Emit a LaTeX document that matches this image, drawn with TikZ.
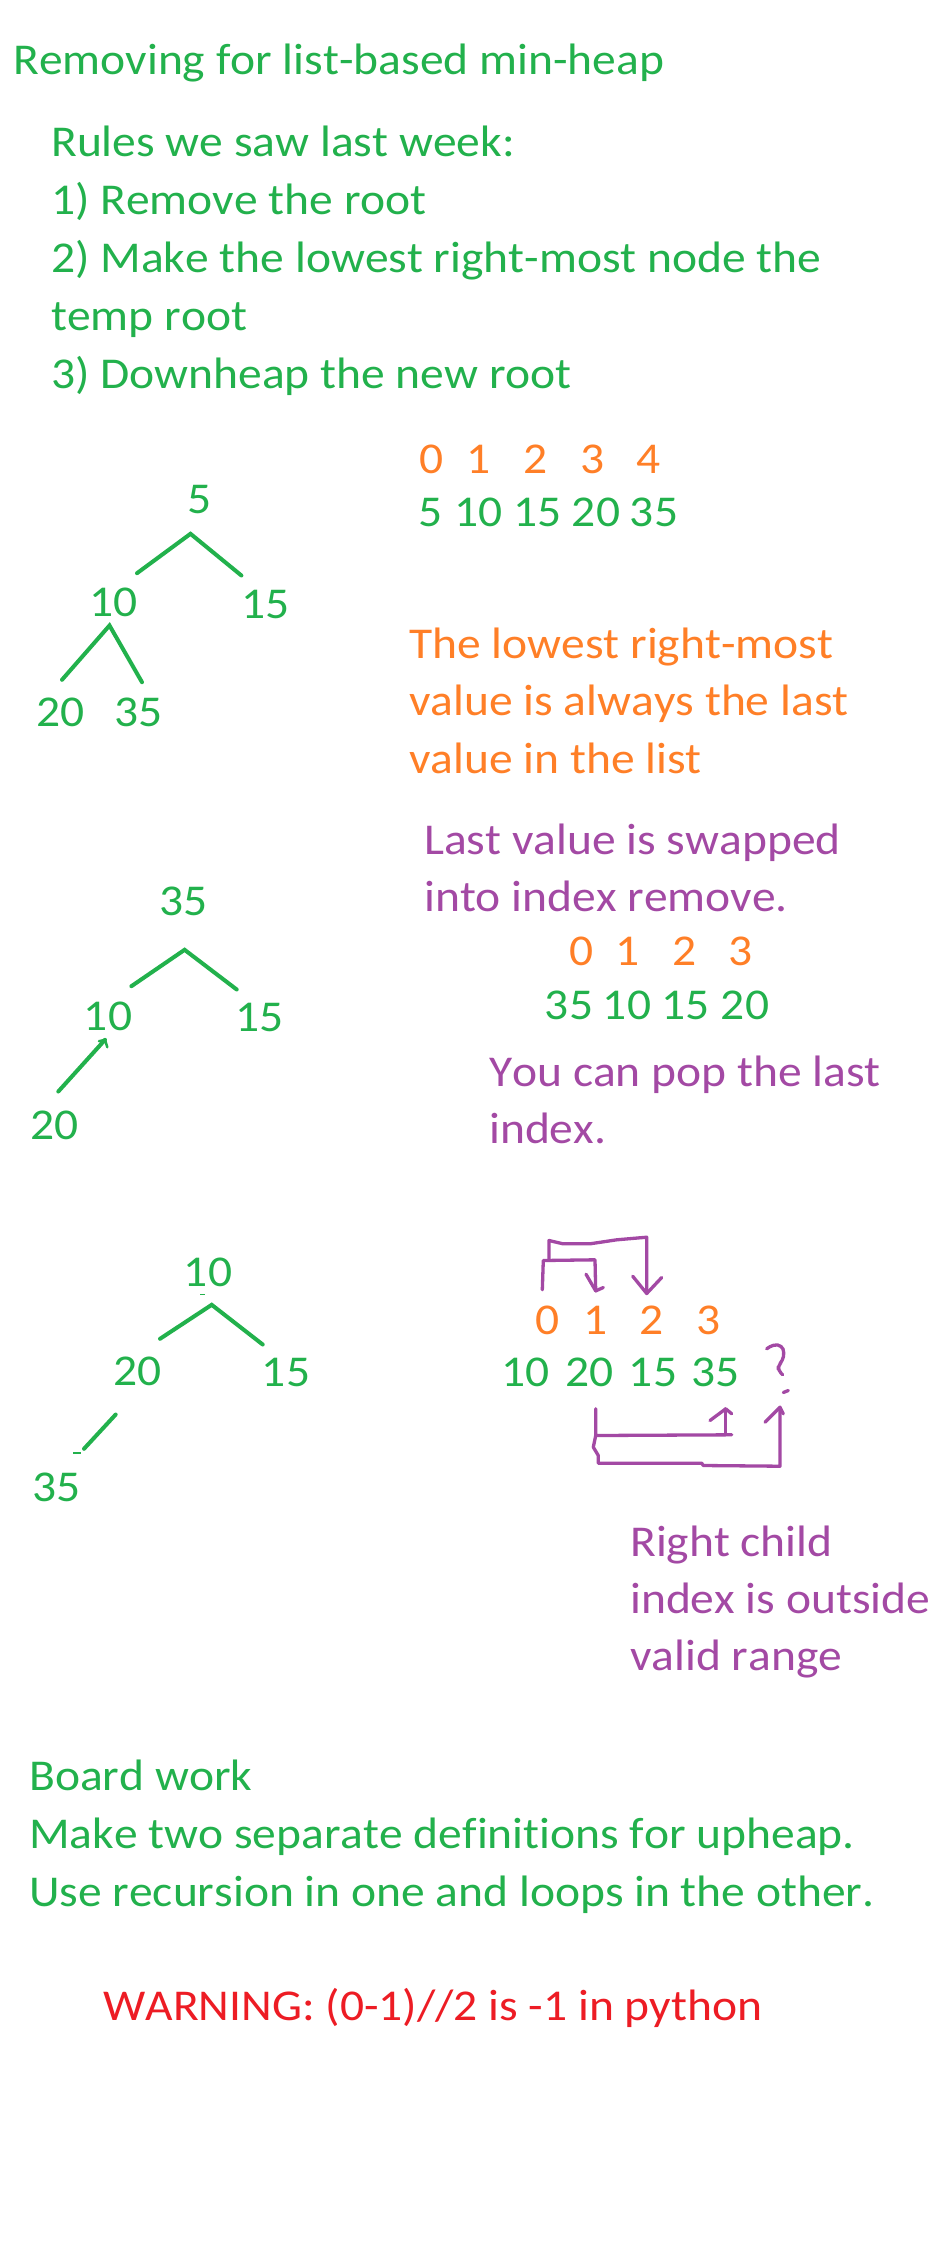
\documentclass[tikz,border=0pt]{standalone}
\usepackage{fontspec}
\setmainfont{Carlito}[FakeStretch=1.08, Ligatures=NoCommon, Kerning=Off]
\definecolor{inkgreen}{RGB}{34,177,76}
\definecolor{inkorange}{RGB}{255,127,39}
\definecolor{inkpurple}{RGB}{163,73,164}
\definecolor{inkred}{RGB}{237,28,36}

\begin{document}
\begin{tikzpicture}[x=1pt, y=-1pt,
    txt/.style={font=\fontsize{44}{58}\selectfont, inner sep=0pt, anchor=base west},
    num/.style={font=\fontsize{44}{58}\selectfont, inner sep=0pt, anchor=base},
    edge/.style={inkgreen, line width=4pt, line cap=round},
    pen/.style={inkpurple, line width=3.3pt, line cap=round, line join=round}]
  \fill[white] (0,0) rectangle (928,2256);
  \useasboundingbox (0,0) rectangle (928,2256);

  % heading and rules
  \node[txt, inkgreen] (title) at (13,75) {Removing for list-based min-heap};
  \foreach \t [count=\i from 0] in {Rules we saw last week:, 1) Remove the root, 2) Make the lowest right-most node the, temp root, 3) Downheap the new root}
    \node[txt, inkgreen] (rule\i) at (51,157+57.8*\i) {\t};

  % first heap
  \node[num, inkgreen] (p5) at (199.5,513.3) {5};
  \node[num, inkgreen] (p10) at (113.4,616.7) {10};
  \node[num, inkgreen] (p15) at (265.4,618) {15};
  \node[num, inkgreen] (p20) at (60.6,726) {20};
  \node[num, inkgreen] (p35) at (138.6,726) {35};
  \draw[edge] ([shift={(23.6,-44)}]p10.south) -- ([shift={(-9,20)}]p5.south) -- ([shift={(-24,-43)}]p15.south);
  \draw[edge] ([shift={(1.4,-46.7)}]p20.south) -- ([shift={(-3.9,8.3)}]p10.south) -- ([shift={(3.4,-44.3)}]p35.south);

  \foreach \x [count=\i from 0] in {432,479,535.5,592.5,649}
    \node[num, inkorange] (la\i) at (\x,473.3) {\i};
  \foreach \x/\v [count=\i from 0] in {430.5/5,478.5/10,537.5/15,596/20,654/35}
    \node[num, inkgreen] (lb\i) at (\x,526.7) {\v};
  \foreach \t [count=\i from 0] in {The lowest right-most, value is always the last, value in the list}
    \node[txt, inkorange] (hint\i) at (409,658.3+57.5*\i) {\t};

  % second heap
  \node[num, inkgreen] (q35) at (183.5,915) {35};
  \node[num, inkgreen] (q10) at (108,1030) {10};
  \node[num, inkgreen] (q15) at (259.8,1031.7) {15};
  \node[num, inkgreen] (q20) at (54.8,1139.3) {20};
  \draw[edge] ([shift={(23.4,-44.3)}]q10.south) -- ([shift={(1.1,34.3)}]q35.south) -- ([shift={(-23.1,-42.7)}]q15.south);
  \draw[edge] ([shift={(3.5,-48.3)}]q20.south) -- ([shift={(-3,9.3)}]q10.south);
  \draw[edge, line width=2.5pt] ([shift={(-9,10.7)}]q10.south) -- ([shift={(-3,9.3)}]q10.south) -- ([shift={(-0.7,16.7)}]q10.south);

  \foreach \t [count=\i from 0] in {Last value is swapped, into index remove.}
    \node[txt, inkpurple] (swap\i) at (424,854+57.7*\i) {\t};
  \foreach \x [count=\i from 0] in {581.5,627.5,685,741}
    \node[num, inkorange] (lc\i) at (\x,965.7) {\i};
  \foreach \x/\v [count=\i from 0] in {569/35,627/10,685.5/15,745/20}
    \node[num, inkgreen] (ld\i) at (\x,1019) {\v};
  \foreach \t [count=\i from 0] in {You can pop the last, index.}
    \node[txt, inkpurple] (pop\i) at (489,1086+57.3*\i) {\t};

  % third heap
  \node[num, inkgreen] (r10) at (208,1286) {10};
  \node[num, inkgreen] (r20) at (137.6,1385.7) {20};
  \node[num, inkgreen] (r15) at (286,1386.7) {15};
  \node[num, inkgreen] (r35) at (56.8,1501.7) {35};
  \draw[edge] ([shift={(22.4,-47.4)}]r20.south) -- ([shift={(3.7,18.3)}]r10.south) -- ([shift={(-23.3,-42.7)}]r15.south);
  \draw[edge] ([shift={(-21.9,28.3)}]r20.south) -- ([shift={(27.2,-53.4)}]r35.south);
  \draw[inkgreen, line width=1.5pt] ([shift={(-8,8)}]r10.south) -- ++(5,0);
  \draw[inkgreen, line width=1.5pt] ([shift={(16.5,-49)}]r35.south) -- ++(7.7,0);

  \foreach \x [count=\i from 0] in {548,595.3,651.7,708.5}
    \node[num, inkorange] (le\i) at (\x,1334) {\i};
  \foreach \x/\v [count=\i from 0] in {525.5/10,589.5/20,653/15,715.5/35}
    \node[num, inkgreen] (lf\i) at (\x,1386.7) {\v};

  % children of index 1
  \draw[pen] ([shift={(-5.7,-44.7)}]le0.south) -- ++(1,-29.3) -- ++(51.7,-0.7) -- ([shift={(0.4,-43.3)}]le1.south);
  \draw[pen] ([shift={(-9.3,-60)}]le1.south) -- ([shift={(0.4,-43.3)}]le1.south) -- ([shift={(8,-46.7)}]le1.south);
  \draw[pen] ([shift={(1,-74.7)}]le0.south) -- ++(0,-19.3) -- ++(14,3.3) -- ++(27,0) -- ++(26.7,-4) -- ++(30,-2.6) -- ([shift={(-5,-40.7)}]le2.south);
  \draw[pen] ([shift={(-19,-58)}]le2.south) -- ([shift={(-5,-40.7)}]le2.south) -- ([shift={(10,-56.7)}]le2.south);

  \coordinate (qm) at ([shift={(62.8,-21.7)}]lf3.south);
  \draw[pen, rounded corners=4pt] ([shift={(-11.6,-16.7)}]qm) -- ([shift={(-5,-21)}]qm) -- ([shift={(3.4,-20)}]qm) -- ([shift={(6,-13.3)}]qm) -- ([shift={(4.4,-5)}]qm) -- (qm) -- ([shift={(0,5)}]qm) -- ([shift={(4.4,9.3)}]qm);
  \draw[pen] ([shift={(5,27)}]qm) -- ([shift={(10,25)}]qm);

  \draw[pen] ([shift={(6.2,21.6)}]lf1.south) -- ++(0,26.7) -- ++(136,-0.7);
  \draw[pen] ([shift={(10.2,47.3)}]lf3.south) -- ([shift={(10.2,21.6)}]lf3.south);
  \draw[pen] ([shift={(-5.5,33.3)}]lf3.south) -- ([shift={(10.2,21.6)}]lf3.south) -- ([shift={(16.2,26.6)}]lf3.south);
  \draw[pen] ([shift={(6.2,48.3)}]lf1.south) -- ++(-2.4,11.7) -- ++(5,8.3) -- ++(0,7.7) -- ++(103.4,0) -- ++(1.6,2.3) -- ++(76.7,0.7) -- ([shift={(1.7,41.7)}]qm);
  \draw[pen] ([shift={(-13.3,56.7)}]qm) -- ([shift={(1.7,41.7)}]qm) -- ([shift={(5,48.3)}]qm);

  \foreach \t [count=\i from 0] in {Right child, index is outside, valid range}
    \node[txt, inkpurple] (range\i) at (630,1556+57.3*\i) {\t};

  % board work
  \foreach \t [count=\i from 0] in {Board work, Make two separate definitions for upheap., Use recursion in one and loops in the other.}
    \node[txt, inkgreen] (board\i) at (29,1790+58*\i) {\t};
  \node[txt, inkred] (warn) at (103,2020.7) {WARNING: (0-1)//2 is -1 in python};
\end{tikzpicture}
\end{document}
